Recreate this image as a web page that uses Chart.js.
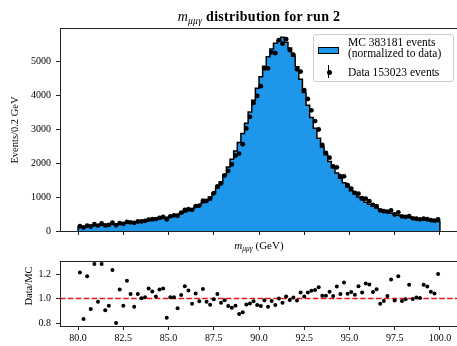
<!DOCTYPE html>
<html>
<head>
<meta charset="utf-8">
<script src="https://cdn.jsdelivr.net/npm/chart.js@4.4.0/dist/chart.umd.min.js"></script>
<style>
  body { margin: 0; width: 457px; height: 346px; overflow: hidden; background: #fff; position: relative;
         font-family: 'Liberation Serif', serif; color: #000; }
  canvas { position: absolute; left: 0; }
  .txt { position: absolute; white-space: nowrap; z-index: 2; }
  .sub { font-size: 0.68em; position: relative; top: 0.3em; font-style: italic; font-weight: normal; }
  .it { font-style: italic; font-weight: normal; }
  #legend { position: absolute; left: 313px; top: 34px; width: 139px; height: 46px; z-index: 2;
            border: 1px solid #cccccc; border-radius: 3px; background: rgba(255,255,255,0.85); }
  #legend div { position: absolute; }
</style>
</head>
<body>
<canvas id="mainChart" width="470" height="250" style="top:0"></canvas>
<canvas id="ratioChart" width="470" height="96" style="top:250px"></canvas>

<div class="txt" style="left:60px;width:398px;top:9px;text-align:center;font-weight:bold;font-size:14px;line-height:16px;letter-spacing:0.3px">
  <span class="it">m</span><span class="sub">μμγ</span> distribution for run 2
</div>
<div class="txt" style="left:60px;width:398px;top:239px;text-align:center;font-size:11px;line-height:12px">
  <span class="it">m</span><span class="sub">μμγ</span> (GeV)
</div>
<div class="txt" style="left:-45px;width:120px;top:124px;text-align:center;font-size:10.5px;line-height:12px;transform:rotate(-90deg)">Events/0.2 GeV</div>
<div class="txt" style="left:-31px;width:120px;top:280px;text-align:center;font-size:10.5px;line-height:12px;transform:rotate(-90deg)">Data/MC</div>

<div id="legend">
  <div style="left:4px;top:12px;width:19px;height:5px;background:#1e96ea;border:1.5px solid #000"></div>
  <div style="left:34px;top:2px;font-size:11.5px;line-height:11px">MC 383181 events<br>(normalized to data)</div>
  <div style="left:14px;top:30px;width:1.2px;height:13px;background:#000"></div>
  <div style="left:12.5px;top:34.5px;width:5px;height:5px;border-radius:50%;background:#000"></div>
  <div style="left:34px;top:31px;font-size:11.5px;line-height:12px">Data 153023 events</div>
</div>

<script>
// bins: 100 bins of 0.2 GeV between 80 and 100 GeV
const binEdges = Array.from({ length: 101 }, (_, i) => +(80 + 0.2 * i).toFixed(1));
const binCenters = binEdges.slice(0, 100).map(e => +(e + 0.1).toFixed(1));

// MC (normalized to data), events per bin
const mcCounts = [
  115, 125, 135, 145, 155, 163, 172, 180, 190, 198,
  207, 216, 226, 236, 247, 258, 270, 283, 297, 312,
  328, 345, 363, 383, 405, 430, 458, 490, 525, 563,
  605, 652, 705, 765, 830, 910, 1005, 1120, 1270, 1450,
  1660, 1890, 2120, 2360, 2610, 2880, 3180, 3510, 3860, 4210,
  4550, 4860, 5140, 5370, 5540, 5630, 5720, 5570, 5400, 5160,
  4850, 4480, 4090, 3710, 3350, 3030, 2740, 2480, 2250, 2050,
  1870, 1710, 1560, 1425, 1300, 1190, 1090, 1000, 920, 850,
  787, 730, 680, 635, 595, 558, 525, 495, 467, 442,
  418, 396, 376, 358, 342, 328, 315, 303, 292, 282
];

// data events per bin
const dataCounts = [
  140, 104, 160, 133, 199, 159, 221, 163, 179, 244,
  166, 232, 213, 270, 256, 241, 280, 284, 300, 338,
  347, 351, 390, 414, 342, 434, 463, 451, 540, 619,
  645, 625, 735, 749, 896, 886, 955, 1114, 1317, 1401,
  1638, 1775, 1963, 2223, 2284, 2560, 3027, 3370, 3779, 3987,
  4272, 4797, 4801, 5268, 5246, 5630, 5526, 5659, 5341, 5201,
  4772, 4704, 4155, 3896, 3561, 3245, 2995, 2540, 2304, 2165,
  1909, 1878, 1618, 1613, 1352, 1253, 1125, 1100, 966, 955,
  878, 769, 732, 608, 584, 570, 607, 487, 552, 434,
  416, 441, 375, 361, 344, 365, 346, 320, 304, 339
];

// Data/MC ratio per bin
const ratioValues = [
  1.214, 0.833, 1.183, 0.915, 1.283, 0.974, 1.283, 0.905, 0.942, 1.233,
  0.800, 1.074, 0.942, 1.145, 1.037, 0.934, 1.037, 1.003, 1.010, 1.082,
  1.058, 1.016, 1.074, 1.082, 0.844, 1.010, 1.010, 0.921, 1.029, 1.100,
  1.066, 0.958, 1.042, 0.979, 1.079, 0.974, 0.950, 0.995, 1.037, 0.966,
  0.987, 0.939, 0.926, 0.942, 0.875, 0.889, 0.952, 0.960, 0.979, 0.947,
  0.939, 0.987, 0.934, 0.981, 0.947, 1.000, 0.966, 1.016, 0.989, 1.008,
  0.984, 1.050, 1.016, 1.050, 1.063, 1.071, 1.093, 1.024, 1.024, 1.056,
  1.021, 1.098, 1.037, 1.132, 1.040, 1.053, 1.032, 1.100, 1.050, 1.124,
  1.116, 1.053, 1.077, 0.958, 0.981, 1.021, 1.156, 0.984, 1.183, 0.981,
  0.995, 1.114, 0.997, 1.008, 1.005, 1.114, 1.098, 1.056, 1.042, 1.201
];

const xTicks = [80, 82.5, 85, 87.5, 90, 92.5, 95, 97.5, 100];
const yTicks = [0, 1000, 2000, 3000, 4000, 5000];
const ratioTicks = [0.8, 1.0, 1.2];

const xMin = 79, xMax = 101;
const axisColor = '#222';
const tickFont = { family: "'Liberation Serif', serif", size: 10 };

// step outline of the MC histogram, held from each left bin edge
const mcStep = [{ x: binEdges[0], y: 0 }];
mcCounts.forEach((v, i) => mcStep.push({ x: binEdges[i], y: v }));
mcStep.push({ x: binEdges[100], y: 0 });

// box round the plot area, like matplotlib spines
const framePlugin = {
  id: 'frame',
  afterDatasetsDraw(chart) {
    const { ctx, chartArea: a } = chart;
    ctx.save();
    ctx.strokeStyle = axisColor;
    ctx.lineWidth = 1;
    ctx.strokeRect(Math.round(a.left) + 0.5, Math.round(a.top) + 0.5,
      Math.round(a.right - a.left), Math.round(a.bottom - a.top));
    ctx.restore();
  }
};

function xScale(showLabels, height) {
  return {
    type: 'linear', min: xMin, max: xMax,
    border: { display: false },
    grid: { drawOnChartArea: false, drawTicks: true, tickLength: 4, tickColor: axisColor },
    ticks: {
      display: showLabels, autoSkip: false, maxRotation: 0, padding: 2,
      color: '#000', font: tickFont,
      callback: v => v.toFixed(1)
    },
    afterBuildTicks: s => { s.ticks = xTicks.map(v => ({ value: v })); },
    afterFit: s => { s.height = height; }
  };
}

const mainChart = new Chart(document.getElementById('mainChart').getContext('2d'), {
  type: 'scatter',
  data: {
    datasets: [
      {
        label: 'Data 153023 events',
        data: binCenters.map((x, i) => ({ x: x, y: dataCounts[i] })),
        backgroundColor: '#000',
        borderWidth: 0,
        pointRadius: 2.4,
        order: 0
      },
      {
        type: 'line',
        label: 'MC 383181 events (normalized to data)',
        data: mcStep,
        stepped: true,
        borderColor: '#000',
        borderWidth: 1.5,
        backgroundColor: '#1e96ea',
        fill: 'origin',
        pointRadius: 0,
        tension: 0,
        order: 1
      }
    ]
  },
  options: {
    responsive: false,
    animation: false,
    layout: { padding: { left: 0, right: 12, top: 28, bottom: 15 } },
    plugins: { legend: { display: false }, tooltip: { enabled: false } },
    scales: {
      x: xScale(false, 4),
      y: {
        type: 'linear', min: 0, max: 5990,
        border: { display: false },
        grid: { drawOnChartArea: false, drawTicks: true, tickLength: 4, tickColor: axisColor },
        ticks: { color: '#000', font: tickFont, padding: 5, callback: v => String(v) },
        afterBuildTicks: s => { s.ticks = yTicks.map(v => ({ value: v })); },
        afterFit: s => { s.width = 60; }
      }
    }
  },
  plugins: [framePlugin]
});

const ratioChart = new Chart(document.getElementById('ratioChart').getContext('2d'), {
  type: 'scatter',
  data: {
    datasets: [
      {
        label: 'Data/MC',
        data: binCenters.map((x, i) => ({ x: x, y: ratioValues[i] })),
        backgroundColor: '#000',
        borderWidth: 0,
        pointRadius: 2,
        order: 0
      },
      {
        type: 'line',
        label: 'unity',
        data: [{ x: xMin, y: 1 }, { x: xMax, y: 1 }],
        borderColor: '#e8161b',
        borderWidth: 1.5,
        borderDash: [5.5, 2.4],
        pointRadius: 0,
        fill: false,
        order: 1
      }
    ]
  },
  options: {
    responsive: false,
    animation: false,
    layout: { padding: { left: 0, right: 12, top: 8, bottom: 0 } },
    plugins: { legend: { display: false }, tooltip: { enabled: false } },
    scales: {
      x: xScale(true, 20),
      y: {
        type: 'linear', min: 0.776, max: 1.307,
        border: { display: false },
        grid: { drawOnChartArea: false, drawTicks: true, tickLength: 4, tickColor: axisColor },
        ticks: { color: '#000', font: tickFont, padding: 5, callback: v => v.toFixed(1) },
        afterBuildTicks: s => { s.ticks = ratioTicks.map(v => ({ value: v })); },
        afterFit: s => { s.width = 60; }
      }
    }
  },
  plugins: [framePlugin]
});
</script>
</body>
</html>
